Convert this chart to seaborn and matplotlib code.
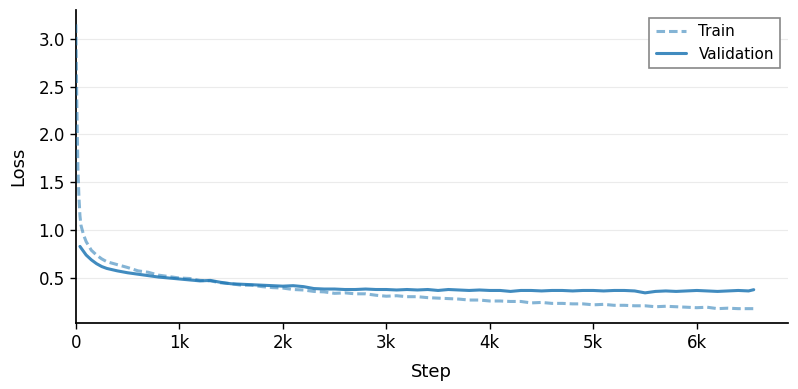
import numpy as np
import pandas as pd
import matplotlib
matplotlib.use('Agg')
import matplotlib.pyplot as plt
import seaborn as sns
from matplotlib.ticker import FuncFormatter, MultipleLocator

# 数据
train_steps = [0, 10, 20, 30, 40, 50, 75, 100, 150, 200, 250, 300,
               400, 500, 600, 700, 800, 900, 1000, 1100, 1200, 1300, 1400,
               1500, 1600, 1700, 1800, 1900, 2000, 2100, 2200, 2300, 2400,
               2500, 2600, 2700, 2800, 2900, 3000, 3100, 3200, 3300, 3400,
               3500, 3600, 3700, 3800, 3900, 4000, 4100, 4200, 4300, 4400,
               4500, 4600, 4700, 4800, 4900, 5000, 5100, 5200, 5300, 5400,
               5500, 5600, 5700, 5800, 5900, 6000, 6100, 6200, 6300, 6400,
               6500, 6550]
train_loss = [3.15, 2.30, 1.65, 1.35, 1.15, 1.05, 0.95, 0.88, 0.79, 0.74, 0.70, 0.67,
              0.64, 0.61, 0.575, 0.56, 0.53, 0.515, 0.50, 0.495, 0.475, 0.47, 0.45,
              0.44, 0.425, 0.425, 0.41, 0.40, 0.395, 0.38, 0.375, 0.36, 0.355,
              0.34, 0.345, 0.335, 0.335, 0.32, 0.31, 0.315, 0.305, 0.305, 0.295,
              0.29, 0.285, 0.28, 0.27, 0.27, 0.26, 0.26, 0.255, 0.255, 0.24,
              0.245, 0.235, 0.235, 0.23, 0.23, 0.22, 0.225, 0.215, 0.215, 0.21,
              0.21, 0.20, 0.205, 0.20, 0.195, 0.19, 0.195, 0.18, 0.185, 0.18,
              0.18, 0.18]

val_steps = [40, 100, 150, 200, 250, 300, 400, 500, 600, 700, 800, 900, 1000,
             1100, 1200, 1300, 1400, 1500, 1600, 1700, 1800, 1900, 2000, 2100,
             2200, 2300, 2400, 2500, 2600, 2700, 2800, 2900, 3000, 3100, 3200,
             3300, 3400, 3500, 3600, 3700, 3800, 3900, 4000, 4100, 4200, 4300,
             4400, 4500, 4600, 4700, 4800, 4900, 5000, 5100, 5200, 5300, 5400,
             5500, 5600, 5700, 5800, 5900, 6000, 6100, 6200, 6300, 6400, 6500,
             6550]
val_loss = [0.83, 0.74, 0.69, 0.65, 0.62, 0.60, 0.575, 0.555, 0.54, 0.525, 0.51, 0.50, 0.49,
            0.48, 0.47, 0.475, 0.455, 0.44, 0.435, 0.43, 0.425, 0.42, 0.415, 0.42,
            0.41, 0.39, 0.385, 0.385, 0.38, 0.38, 0.385, 0.38, 0.38, 0.375, 0.38,
            0.375, 0.38, 0.37, 0.38, 0.375, 0.37, 0.375, 0.37, 0.37, 0.36, 0.37,
            0.37, 0.365, 0.37, 0.37, 0.365, 0.37, 0.37, 0.365, 0.37, 0.37, 0.365,
            0.345, 0.36, 0.365, 0.36, 0.365, 0.37, 0.365, 0.36, 0.365, 0.37, 0.365,
            0.378]

x_ticks = [0, 1000, 2000, 3000, 4000, 5000, 6000]

sns.set_theme(style='ticks')
plt.rcParams['font.family'] = ['DejaVu Sans']
for key in ['text.color', 'axes.labelcolor', 'xtick.color', 'ytick.color', 'axes.edgecolor']:
    plt.rcParams[key] = 'black'

fig = plt.figure(figsize=(7.98, 3.89), dpi=100)
ax = fig.add_axes([0.095, 0.17, 0.892, 0.804])

sns.lineplot(x=train_steps, y=train_loss, ax=ax, color='#1f77b4', alpha=0.55,
             linewidth=2.2, label='Train', zorder=3)
sns.lineplot(x=val_steps, y=val_loss, ax=ax, color='#1f77b4', alpha=0.85,
             linewidth=2.2, label='Validation', zorder=3)
ax.lines[0].set_dashes((2.8, 1.3))

ax.set_xlim(left=0)
ax.set_xticks(x_ticks)
ax.xaxis.set_major_formatter(FuncFormatter(lambda v, p: '0' if v == 0 else f'{int(v/1000)}k'))
ax.yaxis.set_major_locator(MultipleLocator(0.5))
ax.set_xlabel('Step', fontsize=13, labelpad=8)
ax.set_ylabel('Loss', fontsize=13, labelpad=8)
ax.tick_params(labelsize=12, length=4.5, width=1)
ax.grid(axis='y', color='#ebebeb', linewidth=0.8)
ax.set_axisbelow(True)
sns.despine(ax=ax)

leg = ax.legend(loc='upper right', fontsize=11, fancybox=False, edgecolor='#888888',
                framealpha=1)
leg.get_frame().set_linewidth(1.2)

plt.savefig('out.png', dpi=100, facecolor='white')
plt.close()
